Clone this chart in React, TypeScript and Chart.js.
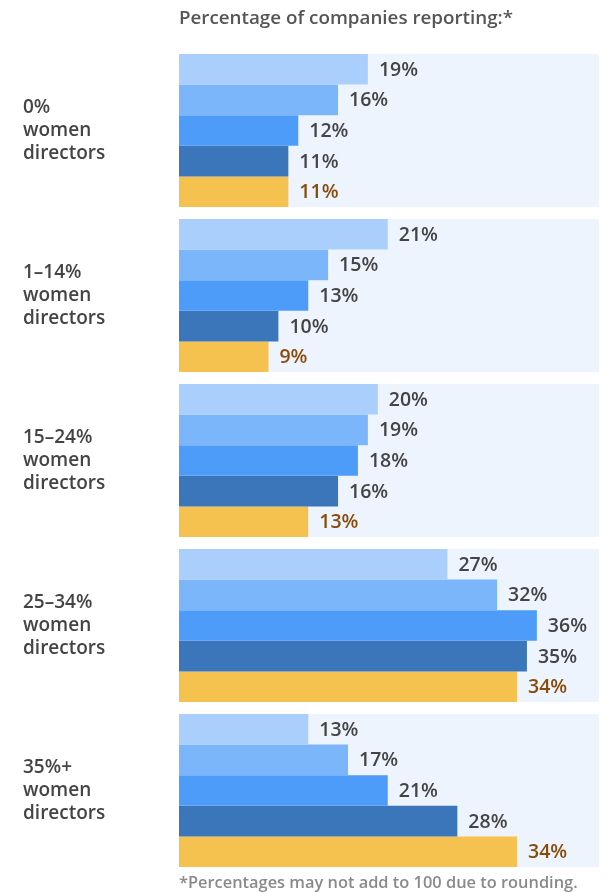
import React, { useEffect, useRef } from "react";
import { Chart, registerables } from "chart.js";

Chart.register(...registerables);

const groupLabels: string[][] = [
  ["0%", "women", "directors"],
  ["1–14%", "women", "directors"],
  ["15–24%", "women", "directors"],
  ["25–34%", "women", "directors"],
  ["35%+", "women", "directors"],
];
const series1 = [19, 21, 20, 27, 13];
const series2 = [16, 15, 19, 32, 17];
const series3 = [12, 13, 18, 36, 21];
const series4 = [11, 10, 16, 35, 28];
const series5 = [11, 9, 13, 34, 34];
const seriesColors = ["#AACFFC", "#7BB6FA", "#4E9CF9", "#3B76BA", "#F5C24F"];
const labelColors = ["#444444", "#444444", "#444444", "#444444", "#8A4B08"];
const titleText = "Percentage of companies reporting:*";
const footText = "*Percentages may not add to 100 due to rounding.";

const FONT = "'Open Sans', 'Noto Sans', sans-serif";
const CAT_PCT = 153 / 165;

const decorPlugin = {
  id: "decor",
  beforeDatasetsDraw(chart: any) {
    const { ctx, chartArea, scales } = chart;
    const y = scales.y;
    const pitch = (chartArea.bottom - chartArea.top) / groupLabels.length;
    const h = pitch * CAT_PCT;
    ctx.save();
    ctx.fillStyle = "#EEF4FE";
    groupLabels.forEach((_, i) => {
      const c = y.getPixelForValue(i);
      ctx.fillRect(chartArea.left, c - h / 2, chartArea.right - chartArea.left, h);
    });
    ctx.restore();
  },
  afterDatasetsDraw(chart: any) {
    const { ctx, chartArea, scales } = chart;
    const y = scales.y;
    ctx.save();
    // value labels
    ctx.font = `600 19.5px ${FONT}`;
    ctx.textBaseline = "middle";
    ctx.textAlign = "left";
    chart.data.datasets.forEach((ds: any, di: number) => {
      const meta = chart.getDatasetMeta(di);
      ctx.fillStyle = labelColors[di];
      meta.data.forEach((bar: any, i: number) => {
        ctx.fillText(`${ds.data[i]}%`, bar.x + 11, bar.y + 1);
      });
    });
    // group labels
    ctx.font = `600 19px ${FONT}`;
    ctx.fillStyle = "#444444";
    groupLabels.forEach((lines, i) => {
      const c = y.getPixelForValue(i);
      const lh = 23;
      lines.forEach((ln, k) => {
        ctx.fillText(ln, 23, c + (k - (lines.length - 1) / 2) * lh);
      });
    });
    // title
    ctx.font = `600 18.8px ${FONT}`;
    ctx.fillStyle = "#555555";
    ctx.fillText(titleText, chartArea.left, 19);
    // footnote
    ctx.font = `600 16.4px ${FONT}`;
    ctx.fillStyle = "#8A8A8A";
    ctx.fillText(footText, chartArea.left, 883);
    ctx.restore();
  },
};

export default function App() {
  const ref = useRef<HTMLCanvasElement>(null);
  useEffect(() => {
    if (!ref.current) return;
    const all = [series1, series2, series3, series4, series5];
    const chart = new Chart(ref.current, {
      type: "bar",
      data: {
        labels: groupLabels.map((l) => l.join(" ")),
        datasets: all.map((d, i) => ({
          data: d,
          backgroundColor: seriesColors[i],
          borderWidth: 0,
          categoryPercentage: CAT_PCT,
          barPercentage: 1,
        })),
      },
      options: {
        indexAxis: "y",
        animation: false,
        responsive: false,
        maintainAspectRatio: false,
        layout: { padding: { left: 179, right: 11, top: 48, bottom: 20 } },
        plugins: { legend: { display: false }, tooltip: { enabled: false }, title: { display: false } },
        scales: {
          x: { display: false, min: 0, max: 42.25 },
          y: { display: false },
        },
      },
      plugins: [decorPlugin],
    });
    return () => chart.destroy();
  }, []);
  return (
    <div style={{ position: "absolute", left: 0, top: 0, width: 610, height: 893 }}>
      <canvas ref={ref} width={610} height={893} style={{ width: 610, height: 893, display: "block" }} />
    </div>
  );
}
